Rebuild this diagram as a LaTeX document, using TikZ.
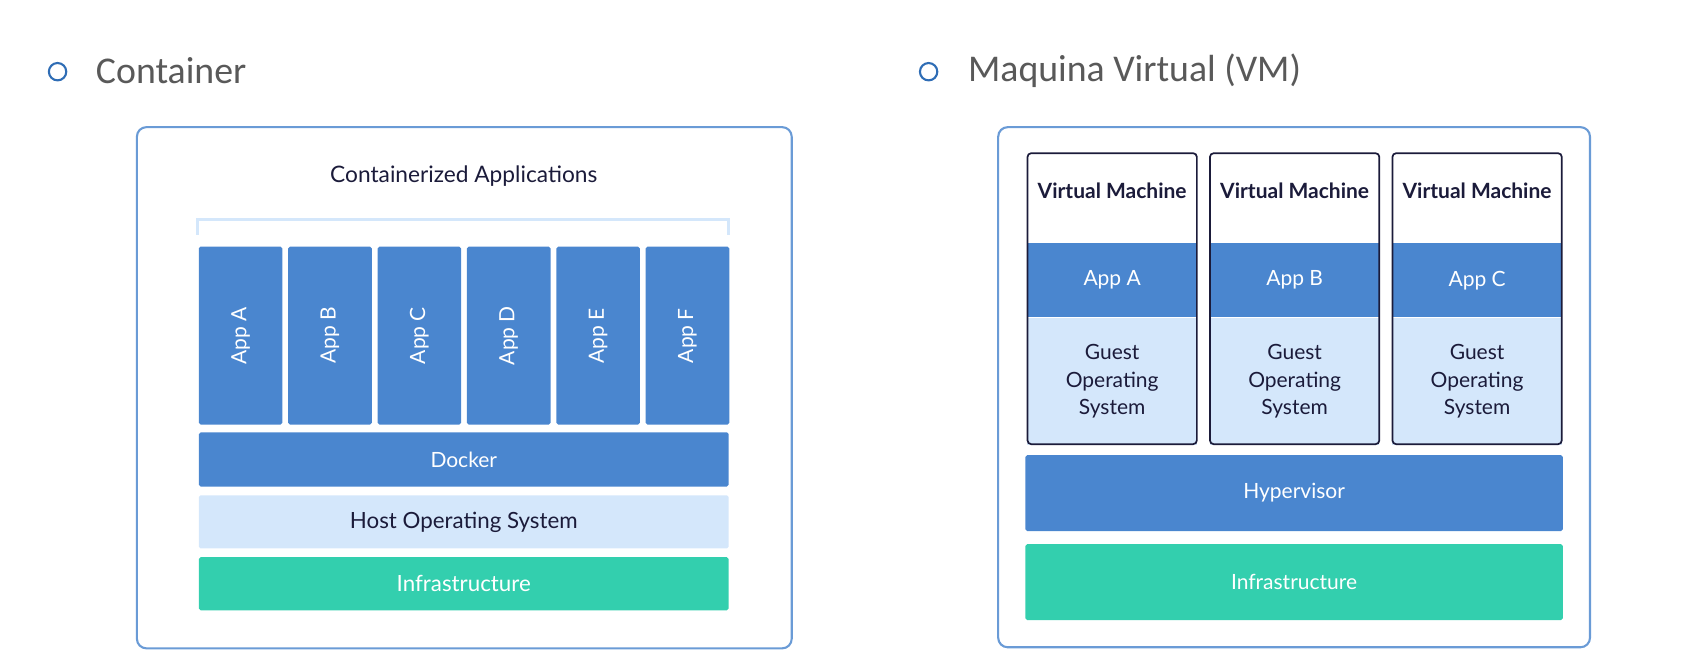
\documentclass[tikz,border=0pt]{standalone}
\usepackage{fontspec}
\setmainfont{Lato}
\newfontfamily\headfont{Carlito}
\usetikzlibrary{positioning}
\definecolor{appblue}{HTML}{4A86CF}
\definecolor{paleblue}{HTML}{D4E7FB}
\definecolor{infragreen}{HTML}{33CFAE}
\definecolor{frameblue}{HTML}{6A9BD6}
\definecolor{inkblue}{HTML}{1B1B3A}
\definecolor{bulletblue}{HTML}{2F6DB5}
\definecolor{headgray}{HTML}{595959}

\begin{document}
\begin{tikzpicture}[x=0.02cm,y=-0.02cm,
	box/.style={inner sep=0pt,rounded corners=1pt,font=\fontsize{11}{14.2}\selectfont},
	bluebox/.style={box,fill=appblue,text=white},
	palebox/.style={box,fill=paleblue,text=inkblue},
	greenbox/.style={box,fill=infragreen,text=white},
	widebox/.style={font=\fontsize{11.7}{14}\selectfont},
	frame/.style={draw=frameblue,line width=1.1pt,rounded corners=5pt,inner sep=0pt},
	bullet/.style={draw=bulletblue,line width=1.1pt,circle,minimum size=0.32cm,inner sep=0pt},
	heading/.style={anchor=west,text=headgray,font=\headfont\fontsize{19.8}{22}\selectfont,inner sep=0pt}]
	\useasboundingbox (0,0) rectangle (1568,603);

	% container
	\node[bullet] (0) at (53,66) {};
	\node[heading] (1) at (88,65) {Container};
	\node[frame,minimum width=12.06cm,minimum height=9.6cm] (2) at (427.5,357) {};
	\node[text=inkblue,font=\fontsize{11.9}{14}\selectfont] (3) at (427,162) {Containerized Applications};
	\coordinate (bl) at (182,216);
	\coordinate (tl) at (182,202);
	\coordinate (tr) at (671,202);
	\coordinate (br) at (671,216);
	\draw[paleblue,line width=1.7pt] (bl) -- (tl) -- (tr) -- (br);
	\foreach \l [count=\i from 0] in {A,B,C,D,E,F}
		\node[bluebox,rotate=90,minimum width=3.28cm,minimum height=1.54cm] (app\l) at (221.5+82.3*\i,309) {App \l};
	\node[bluebox,minimum width=9.76cm,minimum height=1cm] (4) at (427,423) {Docker};
	\node[palebox,widebox,minimum width=9.76cm,minimum height=0.98cm] (5) at (427,480.5) {Host Operating System};
	\node[greenbox,widebox,minimum width=9.76cm,minimum height=0.98cm] (6) at (427,537.5) {Infrastructure};

	% vm
	\node[bullet] (7) at (855,66) {};
	\node[heading] (8) at (891,65) {Maquina Virtual (VM)};
	\node[frame,minimum width=10.9cm,minimum height=9.58cm] (9) at (1191.5,356.5) {};
	\foreach \l/\x in {A/1024,B/1192,C/1360} {
		\node[bluebox,rounded corners=0pt,minimum width=3.12cm,minimum height=1.36cm] (vmapp\l) at (\x,258) {App \l};
		\node[palebox,rounded corners=0pt,minimum width=3.12cm,minimum height=2.34cm,align=center] (guest\l) at (\x,351) {Guest\\Operating\\System};
		\node[draw=inkblue,line width=0.9pt,rounded corners=2pt,minimum width=3.12cm,minimum height=5.36cm] (vm\l) at (\x,275) {};
		\node[text=inkblue,font=\bfseries\fontsize{11}{13}\selectfont] (title\l) at (\x,176) {Virtual Machine};
	}
	\node[bluebox,minimum width=9.9cm,minimum height=1.4cm] (10) at (1191.5,454) {Hypervisor};
	\node[greenbox,minimum width=9.9cm,minimum height=1.4cm] (11) at (1191.5,536) {Infrastructure};
\end{tikzpicture}
\end{document}
